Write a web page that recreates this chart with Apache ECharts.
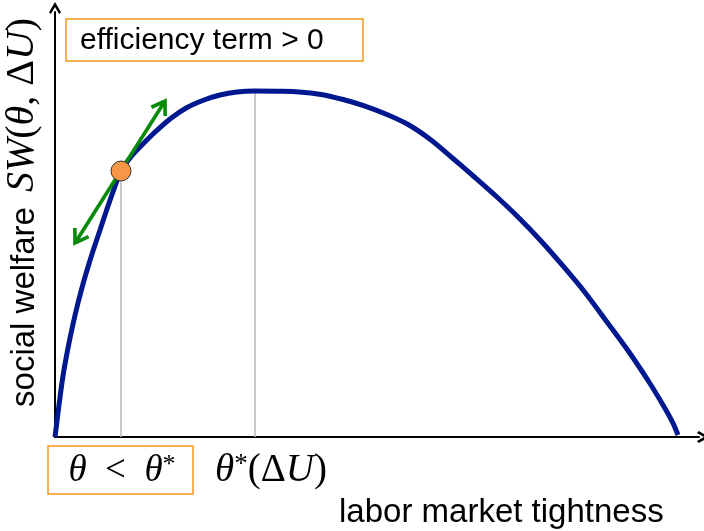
<!DOCTYPE html>
<html>
<head>
<meta charset="utf-8">
<script src="https://cdn.jsdelivr.net/npm/echarts@6/dist/echarts.min.js"></script>
<style>html,body{margin:0;padding:0;background:#fff}#c{width:704px;height:531px}</style>
</head>
<body>
<div id="c"></div>
<script>
// labor market tightness (x) and social welfare (y), arbitrary units 0..100
var curveX = [0, 0.62, 1.24, 2.02, 2.80, 3.57, 4.35, 5.12, 5.90, 6.99, 8.07, 9.16, 10.25, 11.65, 13.35, 15.22, 17.86, 20.50, 23.14, 25.62, 28.26, 31.06, 34.47, 37.89, 41.30, 44.72, 48.14, 51.55, 54.97, 58.39, 61.80, 65.22, 68.63, 72.05, 75.47, 78.88, 82.30, 85.71, 89.13, 92.24, 94.41, 95.96, 96.74];
var curveY = [0, 7.53, 14.35, 20.94, 26.59, 31.53, 36.0, 40.0, 43.76, 48.71, 53.65, 58.35, 62.59, 65.65, 68.47, 71.29, 74.82, 77.53, 79.29, 80.47, 81.18, 81.41, 81.35, 81.2, 80.59, 79.41, 77.88, 75.88, 73.41, 69.88, 65.53, 61.06, 56.47, 51.53, 46.12, 40.24, 34.0, 27.06, 20.0, 12.94, 7.53, 3.29, 0.47];
// current point theta and optimum theta*
var thetaPoint = [10.25, 62.59];
var thetaStar = [31.06, 81.41];
// tangent (efficiency term) arrow endpoints
var tangentStart = [3.11, 45.65];
var tangentEnd = [17.08, 79.06];

var curveData = curveX.map(function (x, i) { return [x, curveY[i]]; });

var chart = echarts.init(document.getElementById('c'), null, {renderer: 'canvas'});
var chevronUp = 'path://M5,0 L10,8.5 L8.4,10 L5,4.2 L1.6,10 L0,8.5 Z';

function arrowItem(params, api) {
  var p0 = api.coord(tangentStart);
  var p1 = api.coord(tangentEnd);
  var dx = p1[0] - p0[0], dy = p1[1] - p0[1];
  var len = Math.sqrt(dx * dx + dy * dy);
  var ux = dx / len, uy = dy / len;
  var L = 15, a = 33 * Math.PI / 180;
  function head(tip, dirx, diry) {
    var c = Math.cos(a), s = Math.sin(a);
    var b1 = [tip[0] + L * (dirx * c - diry * s), tip[1] + L * (dirx * s + diry * c)];
    var b2 = [tip[0] + L * (dirx * c + diry * s), tip[1] + L * (-dirx * s + diry * c)];
    return {type: 'polyline', shape: {points: [b1, tip, b2]},
      style: {stroke: '#058a05', lineWidth: 3.6, fill: null, lineJoin: 'miter'}};
  }
  return {
    type: 'group',
    children: [
      {type: 'line', shape: {x1: p0[0], y1: p0[1], x2: p1[0], y2: p1[1]},
        style: {stroke: '#058a05', lineWidth: 3.6}},
      head(p1, -ux, -uy),
      head(p0, ux, uy)
    ]
  };
}

function mathRich(size) {
  return {
    i: {fontFamily: '"Liberation Serif", serif', fontStyle: 'italic', fontSize: size, fill: '#000'},
    n: {fontFamily: '"Liberation Serif", serif', fontSize: size, fill: '#000'},
    s: {fontFamily: '"Liberation Serif", serif', fontSize: Math.round(size * 0.7), fill: '#000', verticalAlign: 'top'}
  };
}

var option = {
  animation: false,
  backgroundColor: '#ffffff',
  grid: {left: 55, right: 5, top: 12, bottom: 94, containLabel: false},
  xAxis: {
    type: 'value', min: 0, max: 100,
    axisLine: {show: true, lineStyle: {color: '#000', width: 2}, symbol: ['none', chevronUp], symbolSize: [14, 12], symbolOffset: [0, 4]},
    axisTick: {show: false}, axisLabel: {show: false}, splitLine: {show: false}
  },
  yAxis: {
    type: 'value', min: 0, max: 100,
    axisLine: {show: true, lineStyle: {color: '#000', width: 2}, symbol: ['none', chevronUp], symbolSize: [14, 12], symbolOffset: [0, 4]},
    axisTick: {show: false}, axisLabel: {show: false}, splitLine: {show: false}
  },
  series: [
    {type: 'line', data: [[thetaPoint[0], 0], thetaPoint], symbol: 'none', silent: true,
      lineStyle: {color: '#b8b8b8', width: 1.5}, z: 1},
    {type: 'line', data: [[thetaStar[0], 0], thetaStar], symbol: 'none', silent: true,
      lineStyle: {color: '#b8b8b8', width: 1.5}, z: 1},
    {type: 'line', data: curveData, smooth: 0.3, symbol: 'none',
      lineStyle: {color: '#00188f', width: 5}, z: 3},
    {type: 'custom', renderItem: arrowItem, data: [0], z: 4},
    {type: 'scatter', data: [thetaPoint], symbol: 'circle', symbolSize: 20,
      itemStyle: {color: '#f79646', borderColor: '#333', borderWidth: 1, opacity: 1}, z: 5}
  ],
  graphic: [
    {type: 'rect', shape: {x: 66, y: 19, width: 297, height: 42},
      style: {fill: '#fff', stroke: '#f7961e', lineWidth: 1.5}},
    {type: 'text', x: 80, y: 41,
      style: {text: 'efficiency term > 0', font: '30px "Liberation Sans", Arial, sans-serif', fill: '#000', textVerticalAlign: 'middle'}},
    {type: 'rect', shape: {x: 48, y: 446, width: 145, height: 48},
      style: {fill: '#fff', stroke: '#f7961e', lineWidth: 1.5}},
    {type: 'text', x: 122, y: 471,
      style: {text: '{i|θ}{n|  <  }{i|θ}{s|*}', textAlign: 'center', textVerticalAlign: 'middle', rich: mathRich(37)}},
    {type: 'text', x: 271, y: 471,
      style: {text: '{i|θ}{s|*}{n|(Δ}{i|U}{n|)}', textAlign: 'center', textVerticalAlign: 'middle', rich: mathRich(39)}},
    {type: 'text', x: 339, y: 513,
      style: {text: 'labor market tightness', font: '33px "Liberation Sans", Arial, sans-serif', fill: '#000', textVerticalAlign: 'middle'}},
    {type: 'text', x: 25, y: 307, rotation: Math.PI / 2,
      style: {text: 'social welfare', font: '33px "Liberation Sans", Arial, sans-serif', fill: '#000', textAlign: 'center', textVerticalAlign: 'middle'}},
    {type: 'text', x: 22, y: 105, rotation: Math.PI / 2,
      style: {text: '{i|SW}{n|(}{i|θ}{n|, Δ}{i|U}{n|)}', textAlign: 'center', textVerticalAlign: 'middle', rich: mathRich(40)}}
  ]
};
chart.setOption(option);
</script>
</body>
</html>
